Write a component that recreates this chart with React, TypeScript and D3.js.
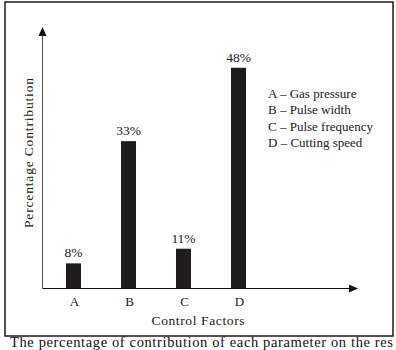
import React from "react";
import * as d3 from "d3";

const categories = ["A", "B", "C", "D"];
const values = [8, 33, 11, 48];
const valueLabels = ["8%", "33%", "11%", "48%"];
const legendItems = [
  "A \u2013 Gas pressure",
  "B \u2013 Pulse width",
  "C \u2013 Pulse frequency",
  "D \u2013 Cutting speed",
];
const yTitle = "Percentage Contribution";
const xTitle = "Control Factors";
const caption = "The percentage of contribution of each parameter on the res";

const W = 396;
const H = 350;
const FONT = "'Liberation Serif', 'Times New Roman', 'DejaVu Serif', serif";

export default function App() {
  const axisX = 42.5;
  const axisY = 288.5;
  const x = d3.scalePoint<string>().domain(categories).range([73.5, 238.5]);
  const y = d3.scaleLinear().domain([0, 50]).range([302.5, 58]);
  const barW = 15;
  const legendY = d3.scalePoint<string>().domain(legendItems).range([98, 147]);

  return (
    <svg
      width={W}
      height={H}
      style={{ position: "absolute", left: 0, top: 0, background: "#fff", fontFamily: FONT }}
    >
      <rect x={0} y={0} width={W} height={H} fill="#fff" />
      <rect x={5} y={2} width={388} height={334} fill="none" stroke="#1a1a1a" strokeWidth={1.5} />
      {/* y axis */}
      <line x1={axisX} x2={axisX} y1={axisY} y2={34} stroke="#555" strokeWidth={1} />
      <path d={`M${axisX},27 L${axisX - 4},36 L${axisX + 4},36 Z`} fill="#111" />
      {/* x axis */}
      <line x1={axisX} x2={350} y1={axisY} y2={axisY} stroke="#111" strokeWidth={1.2} />
      <path d={`M358,${axisY} L349,${axisY - 4} L349,${axisY + 4} Z`} fill="#111" />
      {/* bars */}
      {categories.map((c, i) => (
        <rect
          key={c}
          x={(x(c) as number) - barW / 2}
          y={y(values[i])}
          width={barW}
          height={axisY - y(values[i])}
          fill="#1e1c1d"
        />
      ))}
      {categories.map((c, i) => (
        <text
          key={"v" + c}
          x={x(c) as number}
          y={y(values[i]) - 6}
          textAnchor="middle"
          fontSize={13.5}
          fill="#222"
        >
          {valueLabels[i]}
        </text>
      ))}
      {categories.map((c) => (
        <text key={"t" + c} x={(x(c) as number) + 1} y={306} textAnchor="middle" fontSize={13} fill="#222">
          {c}
        </text>
      ))}
      {legendItems.map((t) => (
        <text key={t} x={268} y={legendY(t)} fontSize={13} fill="#222">
          {t}
        </text>
      ))}
      <text
        transform="translate(33,153) rotate(-90)"
        textAnchor="middle"
        fontSize={13.5}
        fill="#222"
        textLength={150}
        lengthAdjust="spacing"
      >
        {yTitle}
      </text>
      <text x={198} y={325} textAnchor="middle" fontSize={13.5} fill="#222" textLength={93} lengthAdjust="spacing">
        {xTitle}
      </text>
      <text x={10} y={346.5} fontSize={14.5} fill="#111" textLength={383} lengthAdjust="spacing">
        {caption}
      </text>
    </svg>
  );
}
